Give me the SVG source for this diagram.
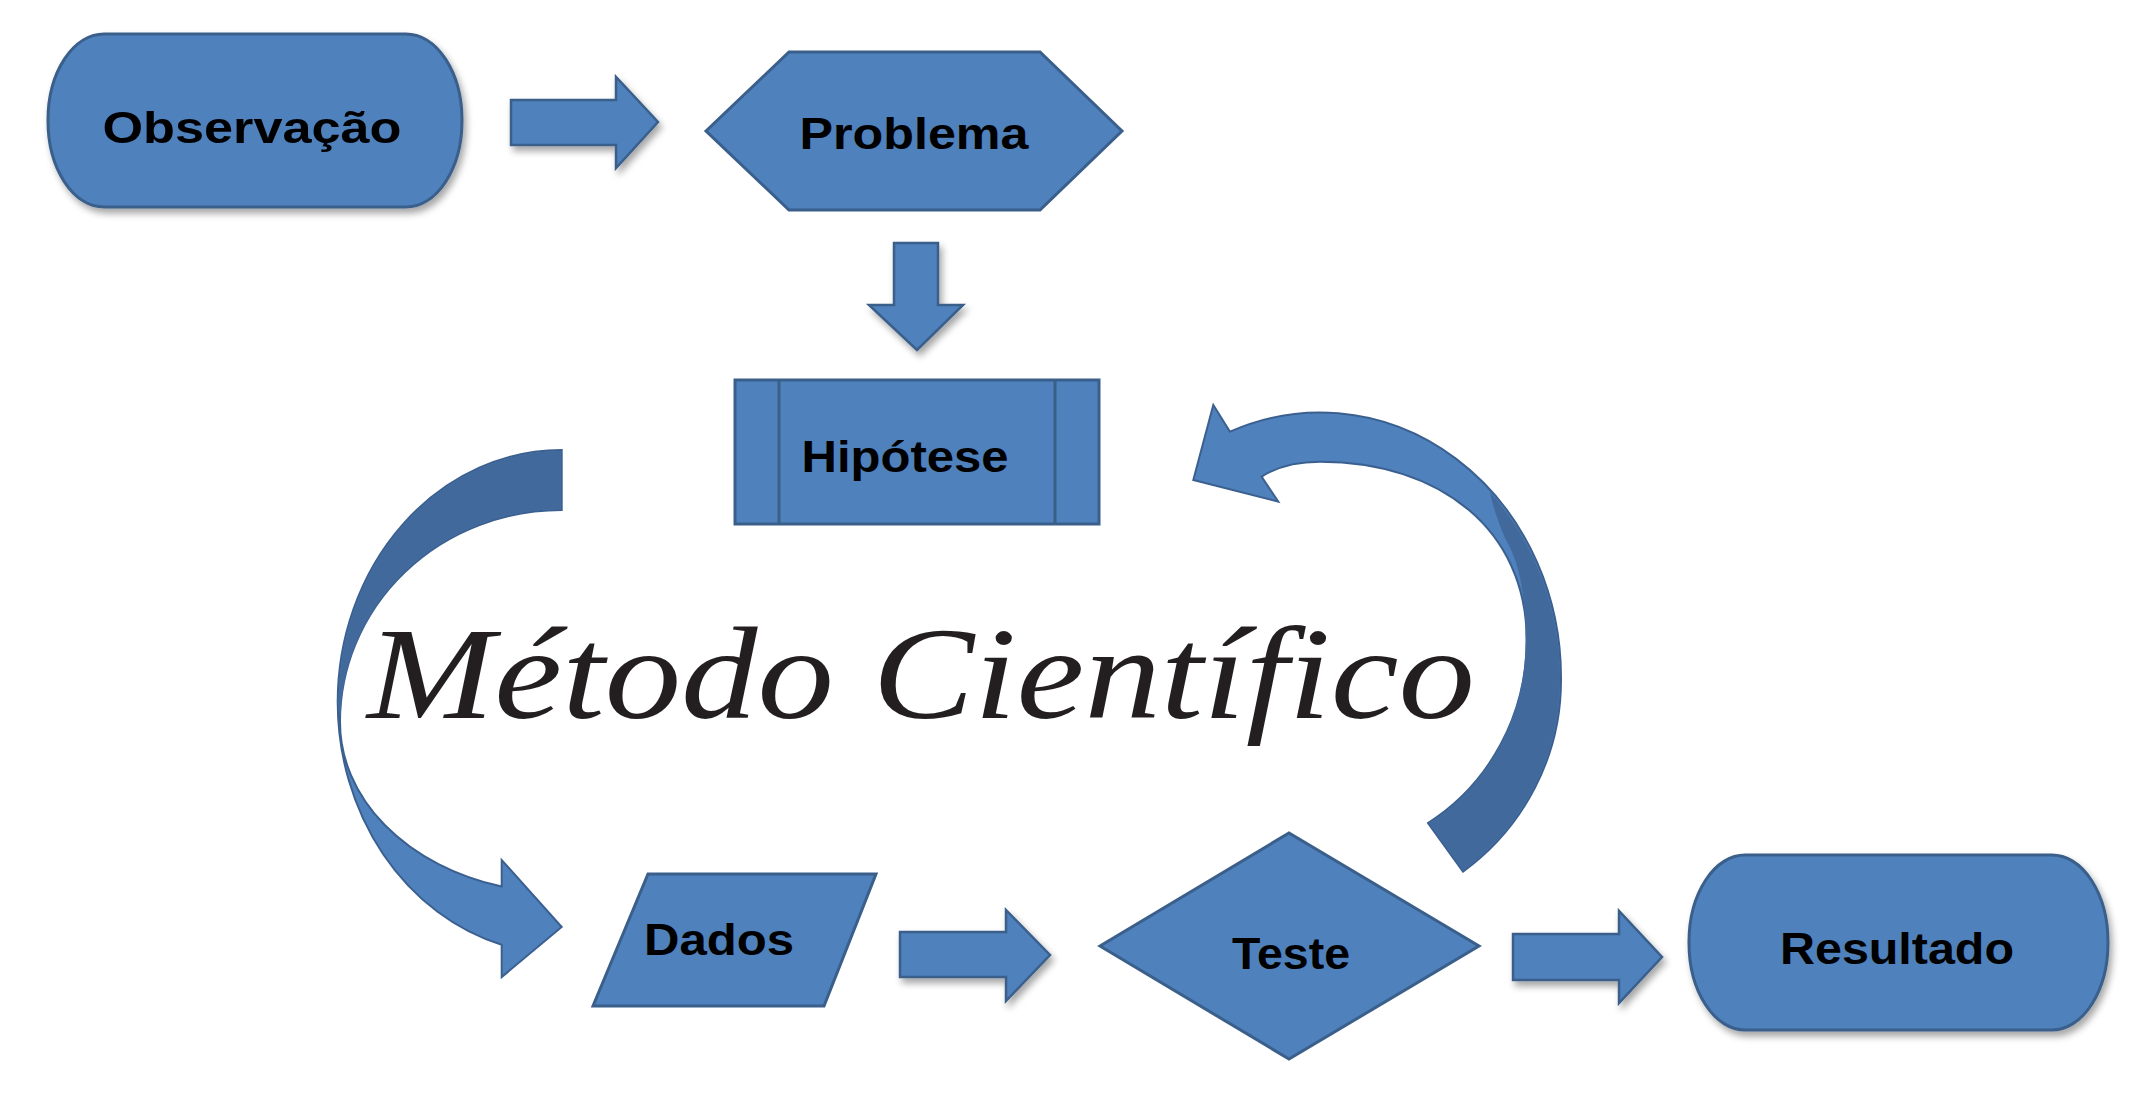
<svg xmlns="http://www.w3.org/2000/svg" width="2150" height="1096" viewBox="0 0 2150 1096">
<defs>
<filter id="sh" x="-20%" y="-20%" width="150%" height="170%"><feDropShadow dx="3" dy="5" stdDeviation="3.5" flood-color="#000" flood-opacity="0.35"/></filter>
</defs>
<style>
.n{fill:#4f81bd;stroke:#3a5f8b;stroke-width:3;}
.ln{fill:none;stroke:#3a5f8b;stroke-width:3;}
.a{fill:#4f81bd;stroke:#3a5f8b;stroke-width:2.5;}
.c{fill:#4f81bd;stroke:#3b6090;stroke-width:2;}
.d{fill:#41699b;stroke:none;}
.t{font-family:"Liberation Sans",Arial,sans-serif;font-weight:bold;font-size:45px;fill:#000;text-anchor:middle;}
.title{font-family:"Liberation Serif","Times New Roman",serif;font-style:italic;font-size:132px;fill:#231f20;}
</style>
<rect width="2150" height="1096" fill="#fff"/>
<g id="connectors">
<polygon class="a" filter="url(#sh)" points="511,100 616,100 616,77 658,122 616,168 616,145 511,145"/>
<polygon class="a" filter="url(#sh)" points="894,243 938,243 938,305 963,305 917,350 869,305 894,305"/>
<polygon class="a" filter="url(#sh)" points="900,932 1006,932 1006,910 1050,955 1006,1001 1006,977 900,977"/>
<polygon class="a" filter="url(#sh)" points="1513,934 1619,934 1619,911 1662,957 1619,1003 1619,980 1513,980"/>
<g id="loop-left">
<path class="c" d="M561.7,450 A224 252 0 0 0 337.7,702 A224 252 0 0 0 501.7,944.8 L501.7,977 L561.7,927 L501.7,860 L501.7,886.6 A221.7 171 0 0 1 340,722 A221.7 212 0 0 1 561.7,510 Z"/>
<path class="d" d="M561.7,451 A223 251 0 0 0 338.7,702 L340.5,721 A221.7 212 0 0 1 560.7,509 Z"/>
</g>
<g id="loop-right">
<path class="c" d="M1230,431.7 A241 265 0 0 1 1561,680 A241 238 0 0 1 1463,871.7 L1428,823 A207 214.5 0 0 0 1526.7,640 C1526.7,530 1440,461.7 1320,461.7 C1295,461.7 1275,468 1261.7,476.7 L1278.3,501.7 L1193.3,480 L1213.3,405 Z"/>
<path class="d" d="M1490,492.2 A241 265 0 0 1 1560,680 A241 238 0 0 1 1463,870.5 L1429.5,823.5 A207 214.5 0 0 0 1525.7,640 C1525.7,590 1518,560 1505,538 Q1494,512 1490,492.2 Z"/>
</g>
</g>
<g id="observacao">
<rect class="n" filter="url(#sh)" x="48" y="34" width="414" height="173" rx="56" ry="86"/>
<text class="t" x="252" y="143" textLength="299" lengthAdjust="spacingAndGlyphs">Observação</text>
</g>
<g id="problema">
<polygon class="n" points="706,131 789,52 1040,52 1122,131 1040,210 789,210"/>
<text class="t" x="914" y="149" textLength="229" lengthAdjust="spacingAndGlyphs">Problema</text>
</g>
<g id="hipotese">
<rect class="n" x="735" y="380" width="364" height="144"/>
<line class="ln" x1="779" y1="380" x2="779" y2="524"/>
<line class="ln" x1="1055" y1="380" x2="1055" y2="524"/>
<text class="t" x="905" y="472" textLength="207" lengthAdjust="spacingAndGlyphs">Hipótese</text>
</g>
<g id="dados">
<polygon class="n" points="648,874 876,874 824,1006 593,1006"/>
<text class="t" x="719" y="955" textLength="150" lengthAdjust="spacingAndGlyphs">Dados</text>
</g>
<g id="teste">
<polygon class="n" points="1100,946 1289,833 1479,946 1289,1059"/>
<text class="t" x="1291" y="969" textLength="118" lengthAdjust="spacingAndGlyphs">Teste</text>
</g>
<g id="resultado">
<rect class="n" filter="url(#sh)" x="1689" y="855" width="419" height="175" rx="56" ry="87"/>
<text class="t" x="1897" y="964" textLength="234" lengthAdjust="spacingAndGlyphs">Resultado</text>
</g>
<g id="titulo">
<text class="title" x="367" y="718" textLength="1108" lengthAdjust="spacingAndGlyphs">Método Científico</text>
</g>
</svg>
